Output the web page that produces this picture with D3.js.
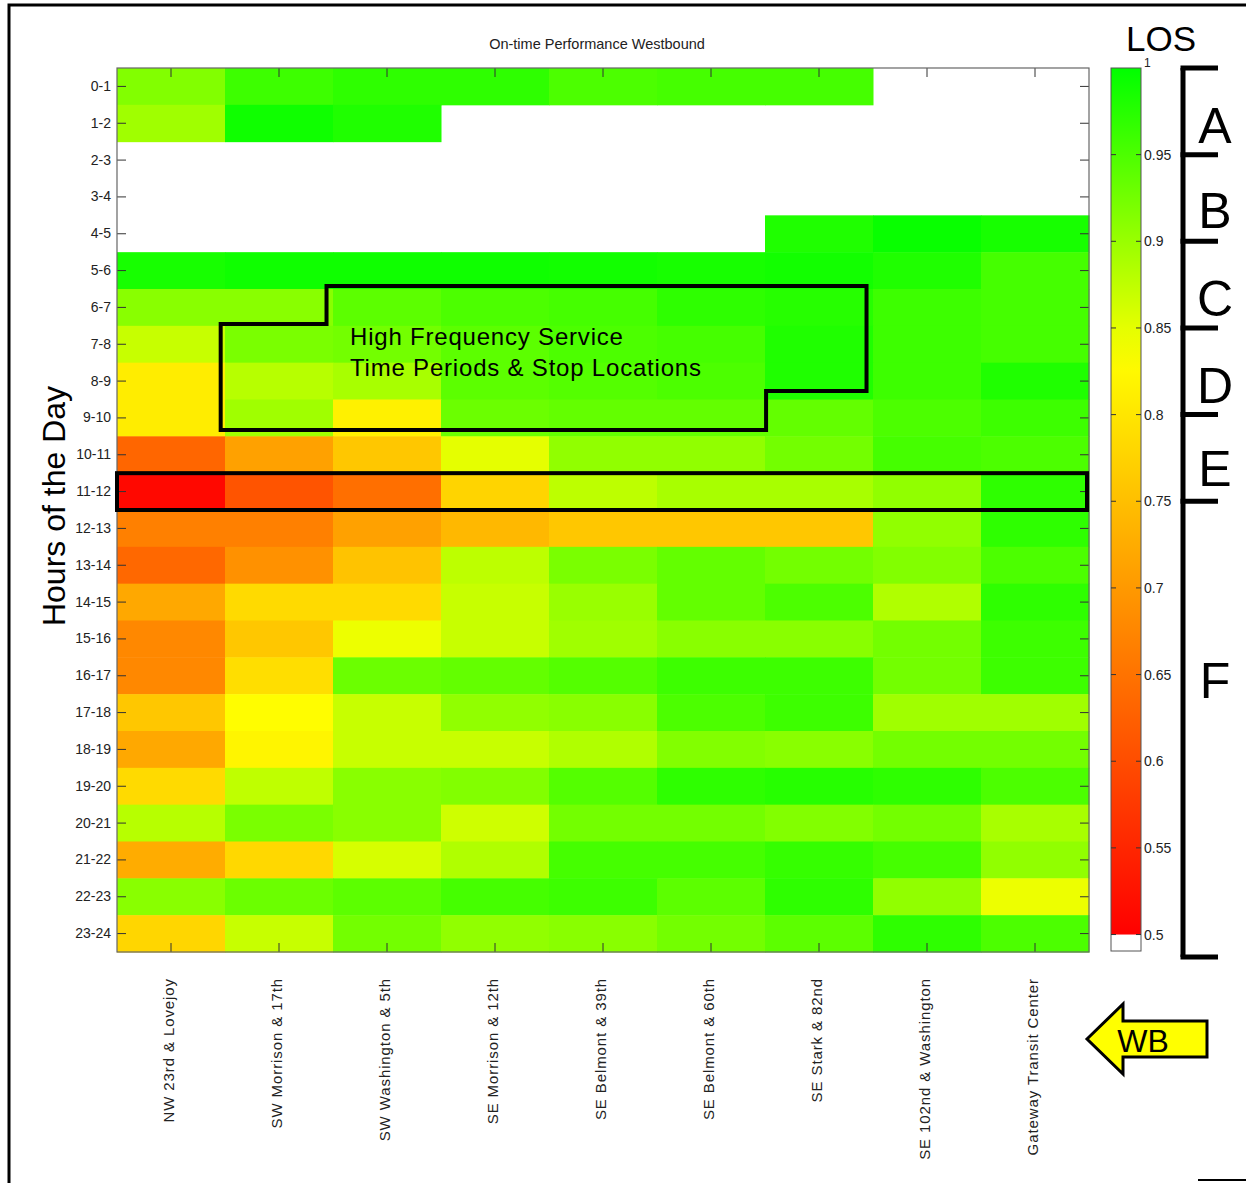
<!DOCTYPE html>
<html>
<head>
<meta charset="utf-8">
<script src="https://cdn.jsdelivr.net/npm/d3@7"></script>
<style>
  body { margin: 0; background: #fff; }
  svg { display: block; font-family: "Liberation Sans", Arial, sans-serif; }
</style>
</head>
<body>
<svg id="chart" width="1246" height="1183"></svg>
<script>
// stops (west end first) and hour bins
const stops = ['NW 23rd & Lovejoy', 'SW Morrison & 17th', 'SW Washington & 5th', 'SE Morrison & 12th',
  'SE Belmont & 39th', 'SE Belmont & 60th', 'SE Stark & 82nd', 'SE 102nd & Washington', 'Gateway Transit Center'];
const hours = ['0-1', '1-2', '2-3', '3-4', '4-5', '5-6', '6-7', '7-8', '8-9', '9-10', '10-11', '11-12',
  '12-13', '13-14', '14-15', '15-16', '16-17', '17-18', '18-19', '19-20', '20-21', '21-22', '22-23', '23-24'];

// on-time share per hour (rows) and stop (columns); null = no service
const onTime = [
  [0.915, 0.96, 0.97, 0.97, 0.95, 0.955, 0.955, null, null],
  [0.895, 0.99, 0.98, null, null, null, null, null, null],
  [null, null, null, null, null, null, null, null, null],
  [null, null, null, null, null, null, null, null, null],
  [null, null, null, null, null, null, 0.98, 0.995, 0.985],
  [0.985, 0.99, 0.99, 0.99, 0.988, 0.985, 0.988, 0.98, 0.955],
  [0.91, 0.91, 0.94, 0.95, 0.955, 0.97, 0.975, 0.96, 0.955],
  [0.87, 0.92, 0.925, 0.94, 0.95, 0.955, 0.98, 0.96, 0.955],
  [0.81, 0.88, 0.89, 0.94, 0.945, 0.95, 0.98, 0.96, 0.98],
  [0.81, 0.895, 0.815, 0.93, 0.935, 0.935, 0.935, 0.95, 0.96],
  [0.633, 0.71, 0.76, 0.85, 0.905, 0.905, 0.925, 0.955, 0.95],
  [0.51, 0.61, 0.645, 0.777, 0.876, 0.89, 0.89, 0.905, 0.97],
  [0.667, 0.667, 0.71, 0.74, 0.76, 0.76, 0.76, 0.905, 0.97],
  [0.636, 0.69, 0.755, 0.876, 0.92, 0.935, 0.925, 0.915, 0.95],
  [0.72, 0.785, 0.785, 0.87, 0.9, 0.935, 0.95, 0.885, 0.97],
  [0.677, 0.76, 0.845, 0.87, 0.895, 0.91, 0.91, 0.925, 0.96],
  [0.677, 0.79, 0.93, 0.935, 0.945, 0.96, 0.96, 0.925, 0.96],
  [0.76, 0.83, 0.87, 0.905, 0.91, 0.95, 0.96, 0.895, 0.895],
  [0.72, 0.82, 0.87, 0.87, 0.885, 0.915, 0.91, 0.925, 0.925],
  [0.785, 0.875, 0.91, 0.915, 0.945, 0.97, 0.975, 0.97, 0.95],
  [0.88, 0.92, 0.91, 0.865, 0.925, 0.925, 0.915, 0.925, 0.89],
  [0.725, 0.782, 0.86, 0.885, 0.955, 0.955, 0.965, 0.955, 0.905],
  [0.91, 0.93, 0.94, 0.955, 0.96, 0.94, 0.97, 0.905, 0.845],
  [0.78, 0.87, 0.925, 0.905, 0.91, 0.925, 0.94, 0.97, 0.95]
];

// colour bar ticks and LOS grade limits
const cbarTicks = [0.5, 0.55, 0.6, 0.65, 0.7, 0.75, 0.8, 0.85, 0.9, 0.95, 1];
const losGrades = ['A', 'B', 'C', 'D', 'E', 'F'];
const losBreaks = [1, 0.95, 0.9, 0.85, 0.8, 0.75];

// high frequency outline, in (column, row) units
const hfsOutline = [[0.96, 6.95], [1.94, 6.95], [1.94, 5.92], [6.94, 5.92], [6.94, 8.77],
  [6.01, 8.77], [6.01, 9.83], [0.96, 9.83]];
const highlightRow = '11-12';

const svg = d3.select('#chart');
const plotL = 117, plotR = 1089, plotT = 68, plotB = 952;

const x = d3.scaleBand().domain(stops).range([plotL, plotR]);
const y = d3.scaleBand().domain(hours).range([plotT, plotB]);
const xi = d3.scaleLinear().domain([0, stops.length]).range([plotL, plotR]);
const yi = d3.scaleLinear().domain([0, hours.length]).range([plotT, plotB]);

const color = d3.scaleLinear()
  .domain([0.5, 0.833, 1])
  .range(['#ff0000', '#ffff00', '#00ff00'])
  .clamp(true);

// outer frame of the figure
svg.append('path')
  .attr('d', 'M9,1183 V5 H1246')
  .attr('fill', 'none').attr('stroke', '#000').attr('stroke-width', 3);
svg.append('line').attr('x1', 1198).attr('x2', 1246).attr('y1', 1180).attr('y2', 1180)
  .attr('stroke', '#000').attr('stroke-width', 2);

// heat map cells
const cells = [];
onTime.forEach((row, i) => row.forEach((v, j) => cells.push({ hour: hours[i], stop: stops[j], v })));

svg.append('g').selectAll('rect')
  .data(cells.filter(d => d.v !== null))
  .enter()
  .append('rect')
  .attr('x', d => x(d.stop))
  .attr('y', d => y(d.hour))
  .attr('width', x.bandwidth() + 0.5)
  .attr('height', y.bandwidth() + 0.5)
  .attr('fill', d => color(d.v));

// axes with inward ticks
const tick = 9;
const yAxis = svg.append('g')
  .attr('transform', `translate(${plotL},0)`)
  .call(d3.axisLeft(y).tickSize(-tick).tickPadding(6));
yAxis.selectAll('text').style('font-size', '14px').attr('fill', '#222');

svg.append('g').attr('transform', `translate(${plotR},0)`)
  .call(d3.axisRight(y).tickSize(-tick).tickFormat(''));
svg.append('g').attr('transform', `translate(0,${plotT})`)
  .call(d3.axisTop(x).tickSize(-tick).tickFormat(''));
const xAxis = svg.append('g').attr('transform', `translate(0,${plotB})`)
  .call(d3.axisBottom(x).tickSize(-tick).tickPadding(0));
xAxis.selectAll('text')
  .attr('transform', 'rotate(-90)')
  .attr('x', -26).attr('y', -2).attr('dy', '0.35em')
  .style('text-anchor', 'end')
  .style('font-size', '15px')
  .style('letter-spacing', '0.9px')
  .attr('fill', '#222');

svg.selectAll('.domain').remove();
svg.selectAll('.tick line').attr('stroke', '#333');
svg.append('rect')
  .attr('x', plotL).attr('y', plotT)
  .attr('width', plotR - plotL).attr('height', plotB - plotT)
  .attr('fill', 'none').attr('stroke', '#666').attr('stroke-width', 1.2);

// annotations
svg.append('path')
  .attr('d', d3.line().x(d => xi(d[0])).y(d => yi(d[1])).curve(d3.curveLinearClosed)(hfsOutline))
  .attr('fill', 'none').attr('stroke', '#000').attr('stroke-width', 4);

const hi = hours.indexOf(highlightRow);
svg.append('rect')
  .attr('x', xi(0)).attr('y', yi(hi))
  .attr('width', xi(stops.length) - xi(0) - 2).attr('height', yi(hi + 1) - yi(hi))
  .attr('fill', 'none').attr('stroke', '#000').attr('stroke-width', 4);

svg.append('text').attr('x', 350).attr('y', 345)
  .style('font-size', '24px').style('letter-spacing', '0.8px').text('High Frequency Service');
svg.append('text').attr('x', 350).attr('y', 376)
  .style('font-size', '24px').style('letter-spacing', '0.8px').text('Time Periods & Stop Locations');

// titles
svg.append('text').attr('x', 597).attr('y', 49)
  .attr('text-anchor', 'middle').style('font-size', '14.5px').attr('fill', '#222')
  .text('On-time Performance Westbound');
svg.append('text')
  .attr('transform', 'translate(65,506) rotate(-90)')
  .attr('text-anchor', 'middle').style('font-size', '32px')
  .text('Hours of the Day');

// colour bar
const cbX = 1111, cbW = 30;
const cb = d3.scaleLinear().domain([0.4905, 1]).range([951, 68]);
const grad = svg.append('defs').append('linearGradient')
  .attr('id', 'cbgrad').attr('x1', 0).attr('x2', 0).attr('y1', 1).attr('y2', 0);
d3.range(0, 1.0001, 0.05).forEach(t => {
  const v = 0.5 + t * 0.5;
  grad.append('stop').attr('offset', t).attr('stop-color', color(v));
});
svg.append('rect').attr('x', cbX).attr('y', cb(0.5)).attr('width', cbW).attr('height', cb(0.4905) - cb(0.5))
  .attr('fill', '#fff');
svg.append('rect').attr('x', cbX).attr('y', cb(1)).attr('width', cbW).attr('height', cb(0.5) - cb(1))
  .attr('fill', 'url(#cbgrad)');
svg.append('rect').attr('x', cbX).attr('y', cb(1)).attr('width', cbW).attr('height', cb(0.4905) - cb(1))
  .attr('fill', 'none').attr('stroke', '#555').attr('stroke-width', 1);

const cbt = svg.append('g');
cbt.selectAll('line.l').data(cbarTicks.slice(0, -1)).enter().append('line')
  .attr('x1', cbX).attr('x2', cbX + 5).attr('y1', d => cb(d)).attr('y2', d => cb(d))
  .attr('stroke', '#333');
cbt.selectAll('line.r').data(cbarTicks.slice(0, -1)).enter().append('line')
  .attr('x1', cbX + cbW - 5).attr('x2', cbX + cbW).attr('y1', d => cb(d)).attr('y2', d => cb(d))
  .attr('stroke', '#333');
cbt.selectAll('text').data(cbarTicks).enter().append('text')
  .attr('x', cbX + cbW + 3)
  .attr('y', d => d === 1 ? cb(d) - 1 : cb(d) + 5)
  .style('font-size', d => d === 1 ? '12px' : '14px')
  .attr('fill', '#222')
  .text(d => d);

svg.append('text').attr('x', 1161).attr('y', 51)
  .attr('text-anchor', 'middle').style('font-size', '35px').text('LOS');

// LOS brackets
const bx = 1183;
svg.append('line').attr('x1', bx).attr('x2', bx).attr('y1', cb(1)).attr('y2', 957)
  .attr('stroke', '#000').attr('stroke-width', 5);
const bracketYs = losBreaks.map(v => cb(v)).concat([957]);
svg.append('g').selectAll('line').data(bracketYs).enter().append('line')
  .attr('x1', bx - 2.5).attr('x2', 1218).attr('y1', d => d).attr('y2', d => d)
  .attr('stroke', '#000').attr('stroke-width', 5);
const letterY = [125, 210, 298, 385, 468, 680];
svg.append('g').selectAll('text').data(losGrades).enter().append('text')
  .attr('x', 1215)
  .attr('y', (d, i) => letterY[i] + 18)
  .attr('text-anchor', 'middle')
  .style('font-size', '50px')
  .text(d => d);

// WB arrow
svg.append('path')
  .attr('d', 'M1087,1039 L1123,1004 L1123,1021 L1207,1021 L1207,1057 L1123,1057 L1123,1074 Z')
  .attr('fill', '#ffff00').attr('stroke', '#000').attr('stroke-width', 3)
  .attr('stroke-linejoin', 'miter');
svg.append('text').attr('x', 1143).attr('y', 1052)
  .attr('text-anchor', 'middle').style('font-size', '32px').text('WB');
</script>
</body>
</html>
